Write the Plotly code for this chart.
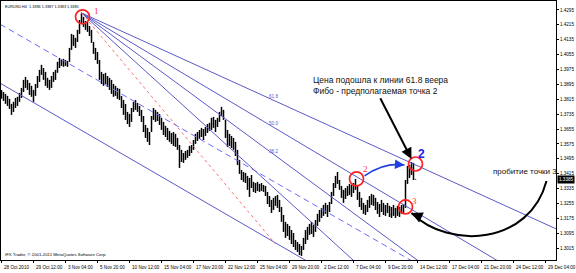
import plotly.graph_objects as go

# ---------------- data (EURUSD H4, bar index / price) ----------------
high = [1.3865,1.3854,1.3844,1.3833,1.3817,1.3790,1.3801,1.3822,1.3828,1.3849,
        1.3876,1.3919,1.3935,1.3919,1.3903,1.3887,1.3865,1.3897,1.3940,1.3973,
        1.4000,1.3983,1.3962,1.3930,1.3919,1.3940,1.3962,1.3973,1.4016,1.4037,
        1.4026,1.4032,1.4026,1.4021,1.4091,1.4166,1.4161,1.4145,1.4188,1.4241,
        1.4279,1.4258,1.4236,1.4231,1.4209,1.4188,1.4123,1.4091,1.4069,1.4026,
        1.3962,1.3951,1.3957,1.3940,1.3930,1.3919,1.3897,1.3887,1.3876,1.3871,
        1.3833,1.3811,1.3790,1.3747,1.3736,1.3768,1.3801,1.3811,1.3795,1.3779,
        1.3758,1.3725,1.3677,1.3661,1.3639,1.3725,1.3768,1.3758,1.3747,1.3736,
        1.3715,1.3693,1.3672,1.3661,1.3645,1.3634,1.3639,1.3629,1.3607,1.3569,
        1.3543,1.3526,1.3537,1.3543,1.3564,1.3569,1.3596,1.3629,1.3639,1.3650,
        1.3661,1.3655,1.3666,1.3682,1.3688,1.3715,1.3720,1.3704,1.3715,1.3747,
        1.3774,1.3758,1.3704,1.3650,1.3629,1.3618,1.3607,1.3586,1.3543,1.3489,
        1.3435,1.3424,1.3419,1.3403,1.3392,1.3408,1.3371,1.3365,1.3371,1.3360,
        1.3365,1.3354,1.3349,1.3317,1.3295,1.3274,1.3285,1.3295,1.3301,1.3274,
        1.3236,1.3193,1.3156,1.3145,1.3134,1.3112,1.3096,1.3059,1.3048,1.3037,
        1.3027,1.3070,1.3112,1.3129,1.3145,1.3156,1.3139,1.3166,1.3199,1.3220,
        1.3231,1.3247,1.3258,1.3247,1.3263,1.3317,1.3365,1.3403,1.3424,1.3381,
        1.3349,1.3328,1.3338,1.3349,1.3360,1.3354,1.3365,1.3387,1.3349,1.3317,
        1.3285,1.3258,1.3247,1.3274,1.3295,1.3306,1.3301,1.3285,1.3263,1.3252,
        1.3274,1.3258,1.3247,1.3258,1.3242,1.3236,1.3247,1.3231,1.3242,1.3236,
        1.3247,1.3252,1.3381,1.3457,1.3462,1.3478,1.3473,1.3387]
low = [1.3817,1.3806,1.3790,1.3779,1.3763,1.3731,1.3747,1.3768,1.3779,1.3801,
       1.3822,1.3854,1.3876,1.3865,1.3838,1.3828,1.3801,1.3833,1.3876,1.3908,
       1.3946,1.3919,1.3887,1.3876,1.3865,1.3876,1.3908,1.3919,1.3957,1.3983,
       1.3994,1.3989,1.3994,1.3989,1.4016,1.4080,1.4102,1.4091,1.4123,1.4166,
       1.4220,1.4204,1.4188,1.4177,1.4155,1.4118,1.4059,1.4026,1.4005,1.3919,
       1.3897,1.3887,1.3897,1.3881,1.3865,1.3844,1.3828,1.3833,1.3817,1.3811,
       1.3768,1.3731,1.3704,1.3682,1.3666,1.3693,1.3747,1.3758,1.3747,1.3725,
       1.3693,1.3639,1.3607,1.3586,1.3569,1.3639,1.3704,1.3693,1.3698,1.3677,
       1.3650,1.3623,1.3612,1.3596,1.3586,1.3575,1.3564,1.3559,1.3543,1.3446,
       1.3478,1.3473,1.3489,1.3500,1.3510,1.3526,1.3543,1.3575,1.3591,1.3602,
       1.3612,1.3596,1.3618,1.3634,1.3645,1.3650,1.3661,1.3639,1.3666,1.3693,
       1.3725,1.3704,1.3607,1.3559,1.3564,1.3553,1.3543,1.3510,1.3462,1.3414,
       1.3381,1.3371,1.3365,1.3328,1.3290,1.3338,1.3317,1.3311,1.3322,1.3317,
       1.3322,1.3317,1.3295,1.3252,1.3236,1.3204,1.3220,1.3242,1.3231,1.3209,
       1.3156,1.3102,1.3070,1.3080,1.3059,1.3037,1.3021,1.3005,1.2994,1.2978,
       1.2973,1.3005,1.3037,1.3059,1.3086,1.3091,1.3075,1.3102,1.3134,1.3156,
       1.3177,1.3188,1.3199,1.3182,1.3209,1.3252,1.3295,1.3338,1.3360,1.3328,
       1.3285,1.3258,1.3279,1.3295,1.3301,1.3290,1.3311,1.3328,1.3274,1.3236,
       1.3220,1.3199,1.3193,1.3209,1.3231,1.3247,1.3242,1.3220,1.3199,1.3182,
       1.3209,1.3193,1.3188,1.3204,1.3182,1.3177,1.3188,1.3177,1.3188,1.3182,
       1.3199,1.3204,1.3231,1.3360,1.3392,1.3408,1.3381,1.3383]
last_close = 1.3385
header_text = "EURUSD,H4  1.3386 1.3387 1.3383 1.3385"

x_tick_bars = [0, 16, 32, 48, 64, 80, 96, 112, 128, 144, 160, 176, 192, 208, 224, 240, 256, 272]
x_tick_text = ["28 Oct 2010", "29 Oct 12:00", "3 Nov 04:00", "5 Nov 20:00", "10 Nov 12:00",
               "15 Nov 04:00", "17 Nov 20:00", "22 Nov 12:00", "25 Nov 04:00", "29 Nov 20:00",
               "2 Dec 12:00", "7 Dec 04:00", "9 Dec 20:00", "14 Dec 12:00", "17 Dec 04:00",
               "21 Dec 20:00", "24 Dec 12:00", "29 Dec 04:00"]
y_tick_vals = [1.4295, 1.4215, 1.4135, 1.4055, 1.3975, 1.3895, 1.3815, 1.3735, 1.3655,
               1.3575, 1.3495, 1.3415, 1.3335, 1.3255, 1.3175, 1.3095, 1.3015]
y_bottom_label = 1.2935

# drawing objects (anchors in bar index / price)
fan_p1 = (40, 1.4279)
fan_p2 = (137, 1.3037)
fan_levels = [0.236, 0.382, 0.5, 0.618]
fan_labels = ["38.2", "50.0", "61.8"]
channel_solid = [(0, 1.3897), (150, 1.2962)]
channel_dashed = [(0, 1.4214), (150, 1.3287)]

pivot_bar = [40.5, 177.5, 202, 207]
pivot_price = [1.4258, 1.3387, 1.3236, 1.3467]
pivot_label = ["1", "2", "3"]

text_arrow = [(189, 1.3828), (205, 1.3494)]
blue_curve = [(181.5, 1.3403), (191.5, 1.3478), (201.5, 1.3462)]
black_curve = [(272.5, 1.3376), (264, 1.3032), (224, 1.3005), (205, 1.3204)]

# ---------------- figure ----------------
fig = go.Figure()
XMAX = 300
BLUE = "#5a5ac8"
AXF = dict(size=4.6, color="black", family="Arial")


def ray(p0, p1, x_start=None):
    k = (p1[1] - p0[1]) / (p1[0] - p0[0])
    xa = p0[0] if x_start is None else x_start
    return [xa, XMAX], [p0[1] + k * (xa - p0[0]), p0[1] + k * (XMAX - p0[0])]


# OHLC bars as vertical high-low strokes
bx, by = [], []
for i, (h, l) in enumerate(zip(high, low)):
    bx += [i, i, None]
    by += [l, h, None]
fig.add_trace(go.Scatter(x=bx, y=by, mode="lines", line=dict(color="black", width=1.5),
                         hoverinfo="skip", showlegend=False))

# channel lines
xs, ys = ray(channel_solid[0], channel_solid[1], x_start=-5)
fig.add_trace(go.Scatter(x=xs, y=ys, mode="lines", line=dict(color=BLUE, width=1), showlegend=False))
xs, ys = ray(channel_dashed[0], channel_dashed[1], x_start=-5)
fig.add_trace(go.Scatter(x=xs, y=ys, mode="lines", line=dict(color="#6a6aff", width=1, dash="6px,4px"),
                         showlegend=False))

# fibonacci fan
for lv in fan_levels:
    p = (fan_p2[0], fan_p2[1] + lv * (fan_p1[1] - fan_p2[1]))
    xs, ys = ray(fan_p1, p)
    fig.add_trace(go.Scatter(x=xs, y=ys, mode="lines", line=dict(color=BLUE, width=1), showlegend=False))
    lab = f"{lv*100:.1f}"
    if lab in fan_labels:
        fig.add_annotation(x=fan_p2[0] - 1, y=p[1], text=lab, showarrow=False, xanchor="center",
                           yanchor="bottom", font=dict(size=4.6, color=BLUE, family="Arial"))
fig.add_trace(go.Scatter(x=[fan_p1[0], fan_p2[0]], y=[fan_p1[1], fan_p2[1]], mode="lines",
                         line=dict(color="#ff7070", width=1, dash="dot"), showlegend=False))

# pivot circles
fig.add_trace(go.Scatter(x=pivot_bar, y=pivot_price, mode="markers",
                         marker=dict(symbol="circle-open", size=14, color="#ff2020", line=dict(width=1.7)),
                         showlegend=False))
for b, p, t, dx, dy in zip(pivot_bar, pivot_price, pivot_label, [14, 9, 9], [6, 10, 6]):
    fig.add_annotation(x=b, y=p, text=t, showarrow=False, xshift=dx, yshift=dy,
                       font=dict(size=9, color="#ff3030", family="Liberation Serif"))
fig.add_annotation(x=pivot_bar[3], y=pivot_price[3], text="<b>2</b>", showarrow=False, xshift=6, yshift=10,
                   font=dict(size=12, color="#2020e0", family="Arial"))

# arrows
fig.add_annotation(x=text_arrow[1][0], y=text_arrow[1][1], ax=text_arrow[0][0], ay=text_arrow[0][1],
                   xref="x", yref="y", axref="x", ayref="y", text="", showarrow=True,
                   arrowhead=2, arrowsize=1.1, arrowwidth=2, arrowcolor="black")
b0, b1, b2 = blue_curve
fig.add_shape(type="path", xref="x", yref="y",
              path=f"M {b0[0]},{b0[1]} Q {b1[0]},{b1[1]} {b2[0]},{b2[1]}",
              line=dict(color="#2040e0", width=1.6))
fig.add_annotation(x=b2[0], y=b2[1], ax=b2[0] - 3, ay=b2[1] + 0.0002, xref="x", yref="y", axref="x",
                   ayref="y", text="", showarrow=True, arrowhead=2, arrowsize=1.2, arrowwidth=1.6,
                   arrowcolor="#2040e0")
c0, c1, c2, c3 = black_curve
fig.add_shape(type="path", xref="x", yref="y",
              path=f"M {c0[0]},{c0[1]} C {c1[0]},{c1[1]} {c2[0]},{c2[1]} {c3[0]},{c3[1]}",
              line=dict(color="black", width=2))
fig.add_annotation(x=c3[0], y=c3[1], ax=c3[0] + 4, ay=c3[1] - 0.0020, xref="x", yref="y", axref="x",
                   ayref="y", text="", showarrow=True, arrowhead=2, arrowsize=1.1, arrowwidth=2,
                   arrowcolor="black")

# texts
fig.add_annotation(x=154.5, y=1.3957, text="Цена подошла к линии 61.8 веера<br>Фибо - предполагаемая точка 2",
                   showarrow=False, xanchor="left", yanchor="top", align="left",
                   font=dict(size=8.5, color="#111111", family="Arial"))
fig.add_annotation(x=244.5, y=1.3424, text="пробитие точки 3", showarrow=False, xanchor="left",
                   yanchor="middle", font=dict(size=8, color="#111111", family="Arial"))
fig.add_annotation(xref="paper", yref="paper", x=0, y=1, xshift=2, yshift=-2, text=header_text,
                   showarrow=False, xanchor="left", yanchor="top", font=dict(size=3.8, color="black", family="Arial"))
fig.add_annotation(xref="paper", yref="paper", x=0, y=0, xshift=2, yshift=1,
                   text="IFX Trader, © 2001-2011 MetaQuotes Software Corp.", showarrow=False,
                   xanchor="left", yanchor="bottom", font=dict(size=4.3, color="black", family="Arial"))

# x tick labels (left-aligned like MT4)
for b, t in zip(x_tick_bars, x_tick_text):
    fig.add_annotation(x=b, xref="x", y=0, yref="paper", text=t, showarrow=False, xanchor="left",
                       yanchor="top", xshift=0, yshift=-3, font=AXF)
# bottom price label and current price box
fig.add_annotation(xref="paper", x=1, y=y_bottom_label, yref="y", text=f"{y_bottom_label:.4f}",
                   showarrow=False, xanchor="left", xshift=3, yanchor="middle", font=AXF)
fig.add_annotation(xref="paper", x=1, y=last_close, yref="y", text=f"{last_close:.4f}", showarrow=False,
                   xanchor="left", xshift=1, yanchor="middle", bgcolor="black", borderpad=1,
                   font=dict(size=4.6, color="white", family="Arial"))

fig.update_layout(
    width=576, height=273, margin=dict(l=1, r=20, t=1, b=13),
    paper_bgcolor="white", plot_bgcolor="white", showlegend=False,
    xaxis=dict(range=[-0.25, 277.25], showgrid=False, zeroline=False, showline=True, linecolor="black",
               linewidth=1, mirror=True, tickvals=x_tick_bars, ticktext=[""] * len(x_tick_bars),
               ticks="outside", ticklen=2, tickcolor="black"),
    yaxis=dict(range=[1.2951, 1.4343], side="right", showgrid=False, zeroline=False, showline=True,
               linecolor="black", linewidth=1, mirror=True, tickvals=y_tick_vals,
               ticktext=[f"{v:.4f}" for v in y_tick_vals], ticks="outside", ticklen=2, tickcolor="black",
               tickfont=AXF),
)

fig.write_html("out.html")
